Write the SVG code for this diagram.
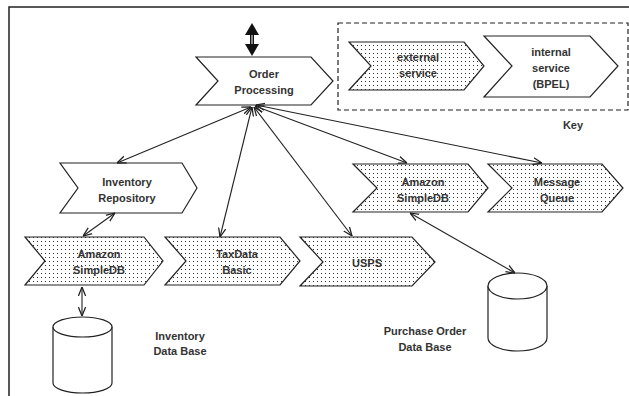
<svg xmlns="http://www.w3.org/2000/svg" width="629" height="396" viewBox="0 0 629 396">
<style>
.bg{fill:#fff}
.frame{fill:none;stroke:#222;stroke-width:1.5}
.int{fill:#fff;stroke:#222;stroke-width:1.2}
.ext{fill:url(#dots);stroke:#222;stroke-width:1.2}
.db{fill:#fff;stroke:#222;stroke-width:1.2}
.t{font-family:"Liberation Sans",Arial,sans-serif;font-size:11px;font-weight:bold;fill:#333;text-anchor:middle}
.c{fill:none;stroke:#222;stroke-width:1.1;marker-end:url(#ah)}
.c2{fill:none;stroke:#222;stroke-width:1.1;marker-start:url(#ahs);marker-end:url(#ah)}
.key{fill:none;stroke:#222;stroke-width:1.2;stroke-dasharray:5 3}
</style>
<defs>
<pattern id="dots" width="4" height="4" patternUnits="userSpaceOnUse">
<rect width="4" height="4" fill="#fff"/>
<rect x="1" y="1" width="1" height="1" fill="#333"/>
</pattern>
<marker id="ah" viewBox="0 0 10 10" refX="10" refY="5" markerWidth="9" markerHeight="9" orient="auto" markerUnits="userSpaceOnUse">
<path d="M0,1 L10,5 L0,9" fill="none" stroke="#222" stroke-width="1.4"/>
</marker>
<marker id="ahs" viewBox="0 0 10 10" refX="0" refY="5" markerWidth="9" markerHeight="9" orient="auto" markerUnits="userSpaceOnUse">
<path d="M10,1 L0,5 L10,9" fill="none" stroke="#222" stroke-width="1.4"/>
</marker>
</defs>
<rect class="bg" width="629" height="396"/>
<path class="frame" d="M9,396 L9,7 L629,7"/>

<g id="key">
<rect class="key" x="338" y="23" width="290" height="87"/>
<g id="key-external">
<path class="ext" d="M349,42 L464,42 L484,66 L464,90 L349,90 L371,66 Z"/>
<text class="t" x="418" y="61">external</text>
<text class="t" x="418" y="77">service</text>
</g>
<g id="key-internal">
<path class="int" d="M484,36 L590,36 L618,66 L590,97 L484,97 L512,66 Z"/>
<text class="t" x="551" y="56">internal</text>
<text class="t" x="551" y="72">service</text>
<text class="t" x="551" y="88">(BPEL)</text>
</g>
<text class="t" x="573" y="129">Key</text>
</g>

<g id="io-arrow">
<rect x="250" y="31" width="4" height="17" fill="#111"/>
<line x1="252" y1="33" x2="252" y2="46" stroke="#fff" stroke-width="1"/>
<path d="M252,23 L259,35 L245,35 Z" fill="#111"/>
<path d="M252,56 L259,44 L245,44 Z" fill="#111"/>
</g>

<g id="order-processing">
<path class="int" d="M196,57 L311,57 L333,81 L311,105 L196,105 L218,81 Z"/>
<text class="t" x="264" y="78">Order</text>
<text class="t" x="264" y="94">Processing</text>
</g>

<g id="inventory-repository">
<path class="int" d="M60,163 L182,163 L197,188 L182,213 L60,213 L78,188 Z"/>
<text class="t" x="127" y="186">Inventory</text>
<text class="t" x="127" y="202">Repository</text>
</g>

<g id="amazon-simpledb-left">
<path class="ext" d="M25,237 L144,237 L163,261 L144,285 L25,285 L45,261 Z"/>
<text class="t" x="99" y="258">Amazon</text>
<text class="t" x="99" y="274">SimpleDB</text>
</g>

<g id="taxdata-basic">
<path class="ext" d="M165,237 L280,237 L300,261 L280,285 L165,285 L186,261 Z"/>
<text class="t" x="237" y="258">TaxData</text>
<text class="t" x="237" y="274">Basic</text>
</g>

<g id="usps">
<path class="ext" d="M300,237 L412,237 L435,262 L412,286 L300,286 L323,262 Z"/>
<text class="t" x="367" y="267">USPS</text>
</g>

<g id="amazon-simpledb-right">
<path class="ext" d="M353,164 L468,164 L488,188 L468,212 L353,212 L377,188 Z"/>
<text class="t" x="423" y="186">Amazon</text>
<text class="t" x="423" y="202">SimpleDB</text>
</g>

<g id="message-queue">
<path class="ext" d="M488,164 L602,164 L623,188 L602,212 L488,212 L512,188 Z"/>
<text class="t" x="557" y="186">Message</text>
<text class="t" x="557" y="202">Queue</text>
</g>

<g id="inventory-db">
<path class="db" d="M53,327 L53,383 A29.5,10 0 0 0 112,383 L112,327"/>
<ellipse class="db" cx="82.5" cy="327" rx="29.5" ry="10"/>
<text class="t" x="180" y="340">Inventory</text>
<text class="t" x="180" y="355">Data Base</text>
</g>

<g id="purchase-order-db">
<path class="db" d="M488,286 L488,338 A29.5,13 0 0 0 547,338 L547,286"/>
<ellipse class="db" cx="517.5" cy="286" rx="29.5" ry="13"/>
<text class="t" x="425" y="335">Purchase Order</text>
<text class="t" x="425" y="351">Data Base</text>
</g>

<g id="connectors">
<line class="c2" x1="251" y1="107" x2="117" y2="163"/>
<line class="c2" x1="252" y1="107" x2="220" y2="237"/>
<line class="c2" x1="254" y1="107" x2="352" y2="236"/>
<line class="c2" x1="255" y1="106" x2="407" y2="163"/>
<line class="c2" x1="256" y1="105" x2="542" y2="163"/>
<line class="c2" x1="410" y1="213" x2="515" y2="273"/>
<line class="c2" x1="83" y1="236" x2="115" y2="213"/>
<line class="c2" x1="82" y1="287" x2="82" y2="316"/>
</g>
</svg>
